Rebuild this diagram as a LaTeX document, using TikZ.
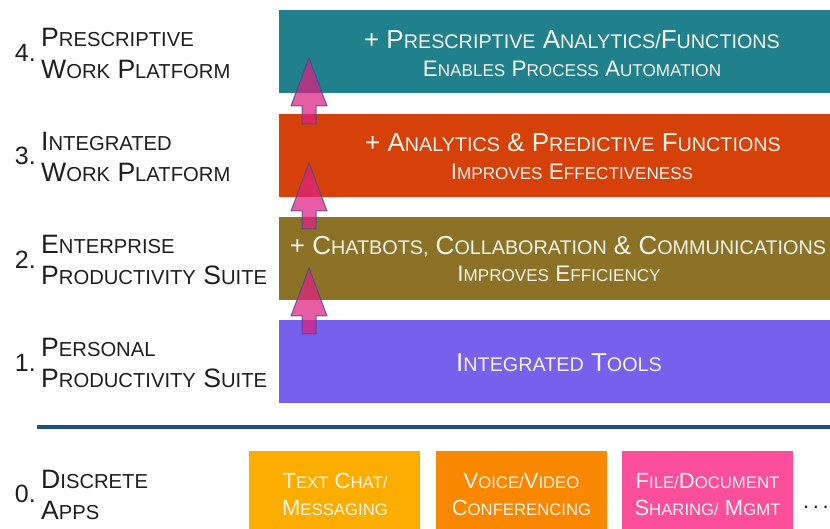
\documentclass[tikz,border=0pt]{standalone}
\usepackage{fontspec}
\setmainfont{Liberation Sans}
\usepackage{graphicx}
\newcommand\lc[1]{\scalebox{0.76}{#1}}
\definecolor{cteal}{HTML}{20808B}
\definecolor{cred}{HTML}{D54108}
\definecolor{colive}{HTML}{8C7227}
\definecolor{cpurple}{HTML}{7660EC}
\definecolor{camber}{HTML}{FBAE00}
\definecolor{corange}{HTML}{F98800}
\definecolor{cpink}{HTML}{FB4F9B}
\definecolor{cline}{HTML}{1F4E88}
\definecolor{carrow}{HTML}{DE1F81}
\definecolor{carrowline}{HTML}{3F4C8F}
\definecolor{ctext}{HTML}{F8F4EC}
\definecolor{clabel}{HTML}{1E1E1E}
\tikzset{
  band/.style={anchor=north west, inner sep=0pt, minimum width=551pt, minimum height=83pt},
  appbox/.style={anchor=north west, inner sep=0pt, minimum width=171pt, minimum height=80pt},
  lbl/.style={anchor=base west, inner sep=0pt, text=clabel, font=\fontsize{26.6}{30}\selectfont},
  num/.style={anchor=base east, inner sep=0pt, text=clabel, font=\fontsize{25}{28}\selectfont},
  bigt/.style={anchor=base, inner sep=0pt, text=ctext, font=\fontsize{26}{30}\selectfont},
  smallt/.style={anchor=base, inner sep=0pt, text=ctext, font=\fontsize{22.5}{26}\selectfont},
  boxt/.style={anchor=base, inner sep=0pt, text=ctext, font=\fontsize{22}{26}\selectfont},
  uparrow/.style={fill=carrow, fill opacity=0.72, draw=carrowline, draw opacity=0.8, line width=1pt, line join=miter},
}
\begin{document}
\begin{tikzpicture}[x=1pt, y=-1pt]
\useasboundingbox (0,0) rectangle (830,529);
\fill[white] (0,0) rectangle (830,529);

% bands
\node[band, fill=cteal] (b4) at (279,10) {};
\node[band, fill=cred] (b3) at (279,114) {};
\node[band, fill=colive] (b2) at (279,217) {};
\node[band, fill=cpurple] (b1) at (279,320) {};

% arrows between bands
\foreach \t [count=\i] in {58,163,268}{
  \draw[uparrow] (309,\t) -- (327,\t+48) -- (316,\t+48) -- (316,\t+66)
     -- (302,\t+66) -- (302,\t+48) -- (291,\t+48) -- cycle;
}

% band texts
\node[bigt] (t4a) at (572,49) {+ P\lc{RESCRIPTIVE} A\lc{NALYTICS/}F\lc{UNCTIONS}};
\node[smallt] (t4b) at (572,77) {E\lc{NABLES} P\lc{ROCESS} A\lc{UTOMATION}};
\node[bigt] (t3a) at (573,152) {+ A\lc{NALYTICS} \& P\lc{REDICTIVE} F\lc{UNCTIONS}};
\node[smallt] (t3b) at (572,180) {I\lc{MPROVES} E\lc{FFECTIVENESS}};
\node[bigt] (t2a) at (558,255) {+ C\lc{HATBOTS,} C\lc{OLLABORATION} \& C\lc{OMMUNICATIONS}};
\node[smallt] (t2b) at (559,282) {I\lc{MPROVES} E\lc{FFICIENCY}};
\node[bigt] (t1a) at (559,371) {I\lc{NTEGRATED} T\lc{OOLS}};

% left labels
\node[num] (n4) at (36,62) {4.};
\node[lbl] (l4a) at (41,47) {P\lc{RESCRIPTIVE}};
\node[lbl] (l4b) at (41,79) {W\lc{ORK} P\lc{LATFORM}};
\node[num] (n3) at (36,165) {3.};
\node[lbl] (l3a) at (41,151) {I\lc{NTEGRATED}};
\node[lbl] (l3b) at (41,182) {W\lc{ORK} P\lc{LATFORM}};
\node[num] (n2) at (36,269) {2.};
\node[lbl] (l2a) at (41,254) {E\lc{NTERPRISE}};
\node[lbl] (l2b) at (41,285) {P\lc{RODUCTIVITY} S\lc{UITE}};
\node[num] (n1) at (36,371) {1.};
\node[lbl] (l1a) at (41,356) {P\lc{ERSONAL}};
\node[lbl] (l1b) at (41,387) {P\lc{RODUCTIVITY} S\lc{UITE}};
\node[num] (n0) at (36,502) {0.};
\node[lbl] (l0a) at (41,488) {D\lc{ISCRETE}};
\node[lbl] (l0b) at (41,519) {A\lc{PPS}};

% separator line
\coordinate (ls) at (37,427);
\coordinate (le) at (830,427);
\draw[cline, line width=4pt] (ls) -- (le);

% discrete apps
\node[appbox, fill=camber] (a1) at (249,451) {};
\node[appbox, fill=corange] (a2) at (436,451) {};
\node[appbox, fill=cpink] (a3) at (622,451) {};
\node[boxt] (a1a) at (335,488) {T\lc{EXT} C\lc{HAT/}};
\node[boxt] (a1b) at (335,515) {M\lc{ESSAGING}};
\node[boxt] (a2a) at (521.5,488) {V\lc{OICE/}V\lc{IDEO}};
\node[boxt] (a2b) at (521.5,515) {C\lc{ONFERENCING}};
\node[boxt] (a3a) at (707.5,488) {F\lc{ILE/}D\lc{OCUMENT}};
\node[boxt] (a3b) at (707.5,515) {S\lc{HARING/} M\lc{GMT}};
\node[anchor=base, inner sep=0pt, text=clabel, font=\fontsize{22}{26}\selectfont] (dots) at (816,508) {.\,.\,.};
\end{tikzpicture}
\end{document}
